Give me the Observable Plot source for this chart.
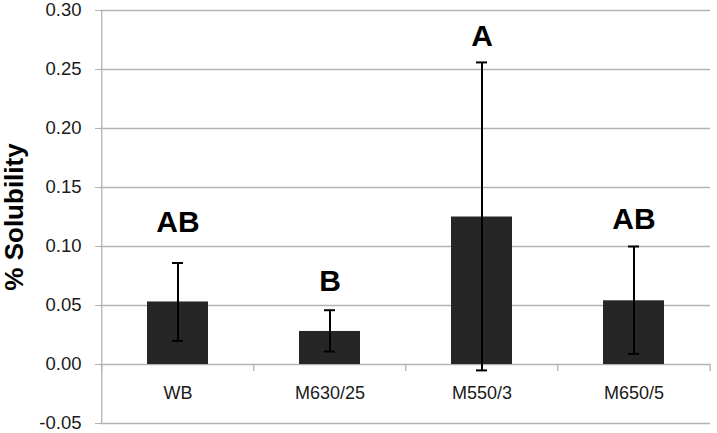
<!DOCTYPE html>
<html>
<head>
<meta charset="utf-8">
<script src="https://cdn.jsdelivr.net/npm/d3@7"></script>
<script src="https://cdn.jsdelivr.net/npm/@observablehq/plot@0.6"></script>
<style>
  html, body { margin: 0; padding: 0; background: #fff; }
  svg { font-family: "Liberation Sans", Arial, sans-serif; }
</style>
</head>
<body>
<div id="chart"></div>
<script>
// ---- data ----
const categories = ["WB", "M630/25", "M550/3", "M650/5"];
const means      = [0.053, 0.028, 0.125, 0.054];
const errLow     = [0.020, 0.011, -0.005, 0.009];
const errHigh    = [0.086, 0.046, 0.256, 0.100];
const letters    = ["AB", "B", "A", "AB"];
const letterY    = [0.112, 0.062, 0.270, 0.115];
const yTicks     = [-0.05, 0, 0.05, 0.10, 0.15, 0.20, 0.25, 0.30];
const yTitle     = "% Solubility";

const data = categories.map((c, i) => ({
  cat: c, mean: means[i], lo: errLow[i], hi: errHigh[i], letter: letters[i], ly: letterY[i]
}));

const W = 717, H = 433;
const mL = 100, mR = 7, mT = 10, mB = 10;
const xOpts = {type: "band", domain: categories, range: [mL, W - mR], paddingInner: 0.6, paddingOuter: 0.3};
const xs = Plot.scale({x: xOpts});
const step = xs.step, bw = xs.bandwidth;
const grid = "#b3b3b3";
const fmt = d => d.toFixed(2);

const chart = Plot.plot({
  width: W, height: H,
  marginLeft: mL, marginRight: mR, marginTop: mT, marginBottom: mB,
  style: {fontFamily: "'Liberation Sans', Arial, sans-serif", background: "#fff"},
  x: {domain: categories, paddingInner: 0.6, paddingOuter: 0.3, axis: null},
  y: {domain: [-0.05, 0.30], axis: null},
  marks: [
    // gridlines
    Plot.ruleY(yTicks, {stroke: grid, strokeWidth: 1.3}),
    // vertical axis line
    Plot.ruleX([categories[0]], {y1: -0.05, y2: 0.30, dx: -step / 2, stroke: grid, strokeWidth: 1.3}),
    // y axis ticks + labels
    Plot.axisY(yTicks, {tickFormat: fmt, tickSize: 5, tickPadding: 14,
      fontSize: 18.5, stroke: grid, color: "#1a1a1a", label: null}),
    // category ticks at band boundaries
    Plot.ruleX(categories, {y1: 0, y2: 0, insetBottom: -7, dx: -step / 2, stroke: grid, strokeWidth: 1.3}),
    Plot.ruleX([categories[categories.length - 1]], {y1: 0, y2: 0, insetBottom: -7, dx: step / 2, stroke: grid, strokeWidth: 1.3}),
    // category labels
    Plot.text(data, {x: "cat", y: 0, text: "cat", dy: 29, fontSize: 18, fill: "#1a1a1a"}),
    // bars
    Plot.barY(data, {x: "cat", y: "mean", fill: "#262626"}),
    // error bars
    Plot.ruleX(data, {x: "cat", y1: "lo", y2: "hi", stroke: "#000", strokeWidth: 2}),
    Plot.tickY(data, {x: "cat", y: "hi", stroke: "#000", strokeWidth: 2, insetLeft: (bw - 11) / 2, insetRight: (bw - 11) / 2}),
    Plot.tickY(data, {x: "cat", y: "lo", stroke: "#000", strokeWidth: 2, insetLeft: (bw - 11) / 2, insetRight: (bw - 11) / 2}),
    // significance letters
    Plot.text(data, {x: "cat", y: "ly", text: "letter", lineAnchor: "bottom", fontSize: 30, fontWeight: "bold", fill: "#000"}),
    // y title
    Plot.text([yTitle], {frameAnchor: "left", textAnchor: "middle", rotate: -90, dx: -86, fontSize: 26, fontWeight: "bold", fill: "#000", lineAnchor: "middle"})
  ]
});
document.getElementById("chart").appendChild(chart);
</script>
</body>
</html>
